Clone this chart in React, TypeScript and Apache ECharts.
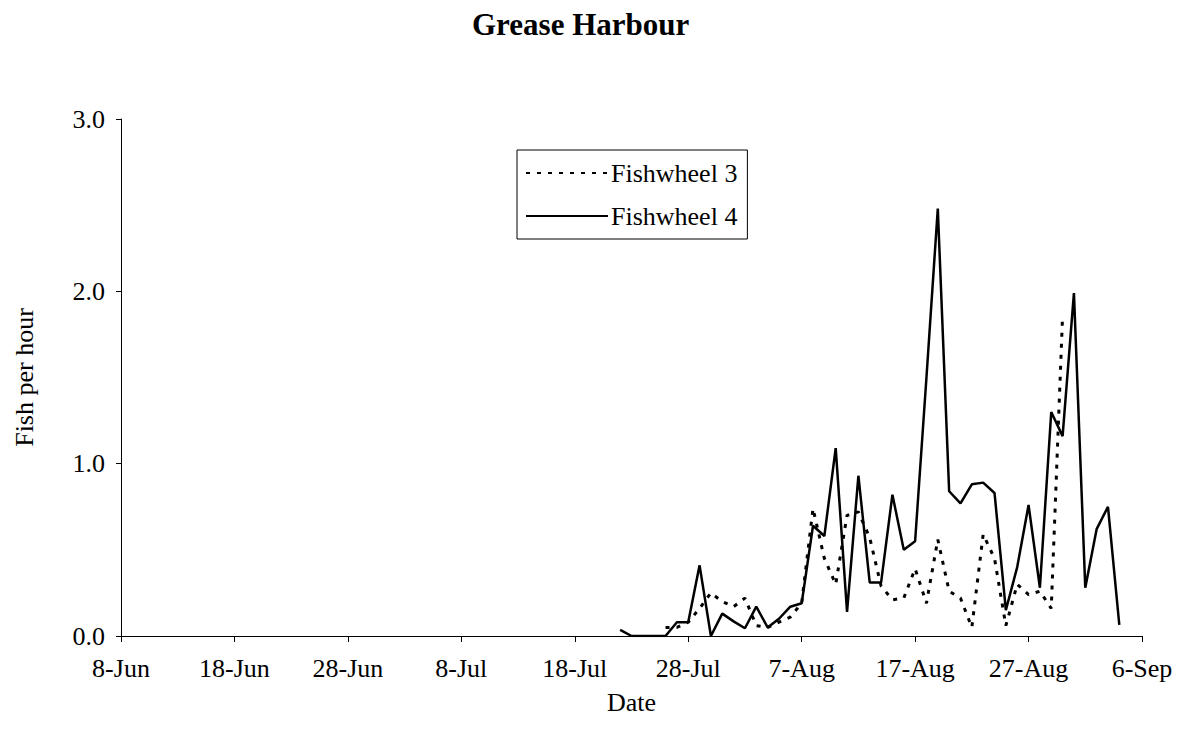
import React, { useEffect, useRef } from "react";
import * as echarts from "echarts";

// Day index 0 = 8-Jun; ticks every 10 days
const tickLabels = ["8-Jun", "18-Jun", "28-Jun", "8-Jul", "18-Jul", "28-Jul", "7-Aug", "17-Aug", "27-Aug", "6-Sep"];

// Fishwheel 3 (dotted): days 48..83
const fw3StartDay = 48;
const fw3Values = [
  0.05, 0.05, 0.08, 0.16, 0.25, 0.2, 0.17, 0.22, 0.06, 0.05,
  0.08, 0.11, 0.19, 0.74, 0.45, 0.3, 0.7, 0.72, 0.57, 0.29,
  0.21, 0.22, 0.39, 0.19, 0.56, 0.26, 0.22, 0.05, 0.59, 0.45,
  0.06, 0.3, 0.24, 0.26, 0.16, 1.86,
];

// Fishwheel 4 (solid): days 44..88
const fw4StartDay = 44;
const fw4Values = [
  0.035, 0, 0, 0, 0, 0.08, 0.08, 0.41, 0, 0.13,
  0.085, 0.045, 0.17, 0.05, 0.1, 0.17, 0.19, 0.64, 0.58, 1.09,
  0.14, 0.93, 0.31, 0.31, 0.82, 0.5, 0.55, 1.5, 2.48, 0.84,
  0.77, 0.88, 0.89, 0.83, 0.15, 0.4, 0.76, 0.28, 1.3, 1.16,
  1.99, 0.28, 0.62, 0.75, 0.065,
];

const FONT = "Liberation Serif";

export default function App() {
  const ref = useRef<HTMLDivElement>(null);

  useEffect(() => {
    if (!ref.current) return;
    const chart = echarts.init(ref.current, null, { renderer: "svg" });
    const fw3 = fw3Values.map((v, i) => [fw3StartDay + i, v]);
    const fw4 = fw4Values.map((v, i) => [fw4StartDay + i, v]);
    chart.setOption({
      animation: false,
      backgroundColor: "#ffffff",
      title: {
        text: "Grease Harbour",
        left: 472,
        top: 9,
        padding: 0,
        textStyle: { fontFamily: FONT, fontWeight: "bold", fontSize: 31, color: "#000" },
      },
      legend: {
        orient: "vertical",
        left: 517,
        top: 150,
        padding: [10, 10, 10, 8],
        itemGap: 17,
        itemWidth: 82,
        itemHeight: 24,
        borderColor: "#000",
        borderWidth: 1,
        itemStyle: { opacity: 0 },
        textStyle: { fontFamily: FONT, fontSize: 26, color: "#000", padding: [0, 0, 0, -2] },
        data: ["Fishwheel 3", "Fishwheel 4"],
      },
      grid: { left: 121, right: 36, top: 119, bottom: 104 },
      xAxis: {
        type: "value",
        min: 0,
        max: 90,
        interval: 10,
        name: "Date",
        nameLocation: "middle",
        nameGap: 53,
        nameTextStyle: { fontFamily: FONT, fontSize: 26, color: "#000" },
        splitLine: { show: false },
        axisLine: { lineStyle: { color: "#000", width: 1 } },
        axisTick: { show: true, inside: false, length: 6, lineStyle: { color: "#000" } },
        axisLabel: {
          margin: 19,
          fontFamily: FONT,
          fontSize: 26,
          color: "#000",
          formatter: (v: number) => tickLabels[Math.round(v / 10)] ?? "",
        },
      },
      yAxis: {
        type: "value",
        min: 0,
        max: 3,
        interval: 1,
        name: "Fish per hour",
        nameLocation: "middle",
        nameRotate: 90,
        nameGap: 84,
        nameTextStyle: { fontFamily: FONT, fontSize: 26, color: "#000" },
        splitLine: { show: false },
        axisLine: { show: true, lineStyle: { color: "#000", width: 1 } },
        axisTick: { show: true, inside: false, length: 5, lineStyle: { color: "#000" } },
        axisLabel: {
          margin: 16,
          fontFamily: FONT,
          fontSize: 26,
          color: "#000",
          formatter: (v: number) => v.toFixed(1),
        },
      },
      series: [
        {
          name: "Fishwheel 3",
          type: "line",
          data: fw3,
          symbol: "none",
          showSymbol: false,
          lineStyle: { color: "#000", width: 3, type: [4, 7] },
          itemStyle: { color: "#000" },
          z: 2,
        },
        {
          name: "Fishwheel 4",
          type: "line",
          data: fw4,
          symbol: "none",
          showSymbol: false,
          lineStyle: { color: "#000", width: 2.5, type: "solid" },
          itemStyle: { color: "#000" },
          z: 3,
        },
      ],
    });
    return () => chart.dispose();
  }, []);

  return (
    <div
      ref={ref}
      style={{ position: "fixed", left: 0, top: 0, width: 1178, height: 740, background: "#fff" }}
    />
  );
}
